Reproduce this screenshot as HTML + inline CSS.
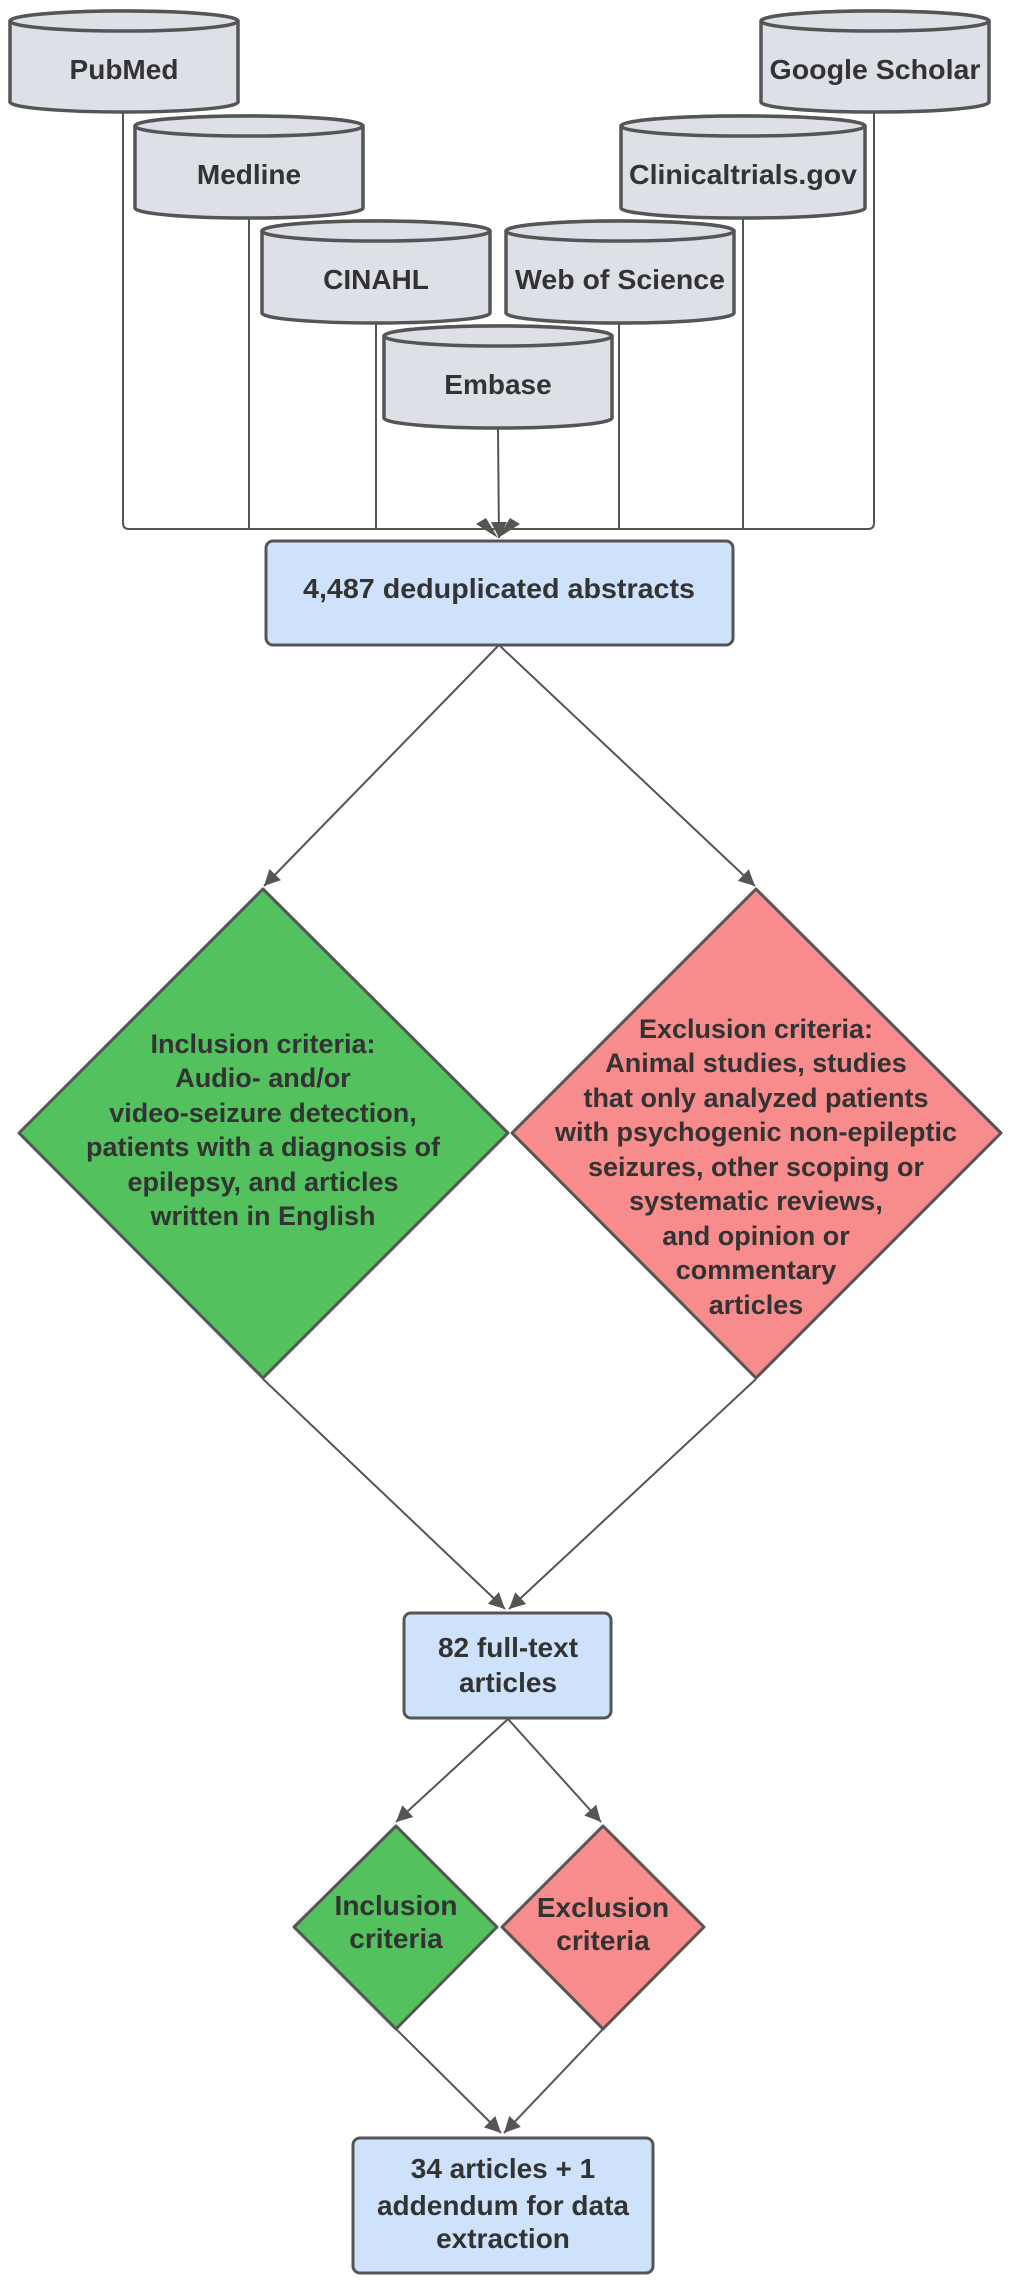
<!DOCTYPE html>
<html><head><meta charset="utf-8"><style>html,body{margin:0;padding:0;background:#fff}svg{display:block}</style></head>
<body>
<svg width="1019" height="2283" viewBox="0 0 1019 2283" xmlns="http://www.w3.org/2000/svg" font-family="Liberation Sans, Arial, sans-serif" font-weight="bold" fill="#333">
<defs>
<marker id="ah2" viewBox="0 0 10 10" refX="10" refY="5" markerWidth="20" markerHeight="16" markerUnits="userSpaceOnUse" orient="auto">
<path d="M0,0 L10,5 L0,10 z" fill="#555"/></marker>
</defs>
<g fill="none" stroke="#555" stroke-width="2">
<path d="M123 112 V523 Q123 529 129 529 H868 Q874 529 874 523 V112"/>
<path d="M249 219 V529 M743 219 V529 M376 324 V529 M619 324 V529"/>
<path d="M498 429 L499 538" marker-end="url(#ah2)"/>
</g>
<path d="M476 524 L498 538 L486 518 Z M520 524 L498 538 L510 518 Z" fill="#555"/>
<g stroke="#555" stroke-width="3.5" fill="#dde0e6">
<path d="M10 21 V102 A114 10 0 0 0 238 102 V21 A114 10 0 0 0 10 21 Z"/><ellipse cx="124" cy="21" rx="114" ry="10"/>
<path d="M761 21 V102 A114 10 0 0 0 989 102 V21 A114 10 0 0 0 761 21 Z"/><ellipse cx="875" cy="21" rx="114" ry="10"/>
<path d="M135 126 V208 A114 10 0 0 0 363 208 V126 A114 10 0 0 0 135 126 Z"/><ellipse cx="249" cy="126" rx="114" ry="10"/>
<path d="M621 126 V208 A122 10 0 0 0 865 208 V126 A122 10 0 0 0 621 126 Z"/><ellipse cx="743" cy="126" rx="122" ry="10"/>
<path d="M262 231 V313 A114 10 0 0 0 490 313 V231 A114 10 0 0 0 262 231 Z"/><ellipse cx="376" cy="231" rx="114" ry="10"/>
<path d="M506 231 V313 A114 10 0 0 0 734 313 V231 A114 10 0 0 0 506 231 Z"/><ellipse cx="620" cy="231" rx="114" ry="10"/>
<path d="M384 336 V418 A114 10 0 0 0 612 418 V336 A114 10 0 0 0 384 336 Z"/><ellipse cx="498" cy="336" rx="114" ry="10"/>
</g>
<g font-size="28" text-anchor="middle">
<text x="124" y="79">PubMed</text>
<text x="875" y="79" textLength="211" lengthAdjust="spacingAndGlyphs">Google Scholar</text>
<text x="249" y="184">Medline</text>
<text x="743" y="184" textLength="228" lengthAdjust="spacingAndGlyphs">Clinicaltrials.gov</text>
<text x="376" y="289">CINAHL</text>
<text x="620" y="289" textLength="210" lengthAdjust="spacingAndGlyphs">Web of Science</text>
<text x="498" y="394">Embase</text>
</g>
<rect x="266" y="541" width="467" height="104" rx="7" fill="#cfe2fb" stroke="#555" stroke-width="3"/>
<text x="499" y="598" font-size="28" text-anchor="middle" textLength="392" lengthAdjust="spacingAndGlyphs">4,487 deduplicated abstracts</text>
<g fill="none" stroke="#555" stroke-width="2">
<path d="M498 646 L264 886" marker-end="url(#ah2)"/>
<path d="M500 646 L755 886" marker-end="url(#ah2)"/>
<path d="M263 1379 L505 1609" marker-end="url(#ah2)"/>
<path d="M756 1379 L509 1609" marker-end="url(#ah2)"/>
<path d="M508 1719 L396 1822" marker-end="url(#ah2)"/>
<path d="M508 1719 L601 1822" marker-end="url(#ah2)"/>
<path d="M396 2029 L501 2133" marker-end="url(#ah2)"/>
<path d="M603 2029 L504 2133" marker-end="url(#ah2)"/>
</g>
<g stroke="#555" stroke-width="3" stroke-linejoin="round">
<path d="M263 889 L508 1133 L263 1378 L19 1133 Z" fill="#52c15e"/>
<path d="M756 889 L1001 1133 L756 1378 L512 1133 Z" fill="#f88b8b"/>
<path d="M396 1826 L497 1927 L396 2029 L294 1927 Z" fill="#52c15e"/>
<path d="M603 1826 L704 1927 L603 2029 L502 1927 Z" fill="#f88b8b"/>
</g>
<g font-size="27" text-anchor="middle">
<text x="263" y="1053">Inclusion criteria:</text>
<text x="263" y="1087">Audio- and/or</text>
<text x="263" y="1122">video-seizure detection,</text>
<text x="263" y="1156">patients with a diagnosis of</text>
<text x="263" y="1191">epilepsy, and articles</text>
<text x="263" y="1225">written in English</text>
<text x="756" y="1038">Exclusion criteria:</text>
<text x="756" y="1072">Animal studies, studies</text>
<text x="756" y="1107">that only analyzed patients</text>
<text x="756" y="1141">with psychogenic non-epileptic</text>
<text x="756" y="1176">seizures, other scoping or</text>
<text x="756" y="1210">systematic reviews,</text>
<text x="756" y="1245">and opinion or</text>
<text x="756" y="1279">commentary</text>
<text x="756" y="1314">articles</text>
</g>
<rect x="404" y="1613" width="207" height="105" rx="7" fill="#cfe2fb" stroke="#555" stroke-width="3"/>
<rect x="353" y="2138" width="300" height="135" rx="7" fill="#cfe2fb" stroke="#555" stroke-width="3"/>
<g font-size="28" text-anchor="middle">
<text x="508" y="1657">82 full-text</text>
<text x="508" y="1692">articles</text>
<text x="396" y="1915">Inclusion</text>
<text x="396" y="1948">criteria</text>
<text x="603" y="1917">Exclusion</text>
<text x="603" y="1950">criteria</text>
<text x="503" y="2178">34 articles + 1</text>
<text x="503" y="2215">addendum for data</text>
<text x="503" y="2248">extraction</text>
</g>
</svg>
</body></html>
